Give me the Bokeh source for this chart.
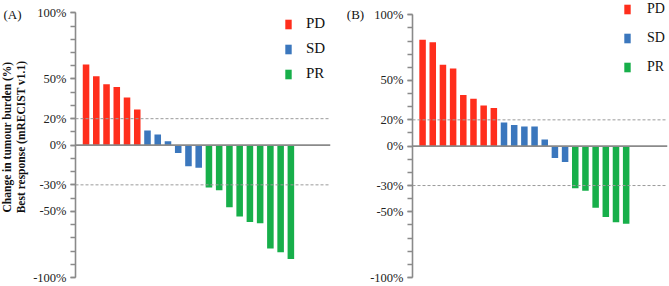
import numpy as np
from bokeh.plotting import figure
from bokeh.models import (ColumnDataSource, FixedTicker, PrintfTickFormatter, Span,
                          Label, Legend, LegendItem, Range1d)
from bokeh.layouts import row
from bokeh.embed import file_html
from bokeh.resources import INLINE

# ---------------- data ----------------
categories = ["PD", "SD", "PR"]
bar_colors = ["#FF2E1C", "#3B77BD", "#17AF4A"]

a_pd = [61, 52, 46, 44, 36, 27]
a_sd = [11, 8, 3, -6, -16, -17]
a_pr = [-32, -34, -47, -54, -58, -59, -78, -81, -86]

b_pd = [81, 79, 62, 59, 39, 36, 31, 29]
b_sd = [18, 16, 15, 15, 5, -9, -12]
b_pr = [-32, -34, -47, -54, -58, -59]

y_ticks = [-100, -50, -30, 0, 20, 50, 100]
y_minor = list(range(-100, 101, 10))
threshold_lines = [20, -30]
panel_tags = ["(A)", "(B)"]
y_title = ["Change in tumour burden (%)", "Best response (mRECIST v1.1)"]

SERIF = "Liberation Serif"
GRAY = "#8a8a8a"
TEXT = "#111111"


def strip(width, height):
    """A narrow drawing area (pixel coordinates, y downward) for side texts."""
    s = figure(width=width, height=height, x_range=Range1d(0, width),
               y_range=Range1d(height, 0), toolbar_location=None,
               output_backend="svg", x_axis_location=None, y_axis_location=None,
               min_border=0)
    s.grid.visible = False
    s.outline_line_color = None
    return s


def make_panel(groups, width, height, bl, br, bb, x_start, x_end, y_top_px,
               leg_loc, leg_spacing, leg_standoff, leg_font):
    fh = height - bb
    ppy = (fh - y_top_px) / 200.0
    y_end = 100 + y_top_px / ppy

    p = figure(width=width, height=height, x_range=Range1d(x_start, x_end),
               y_range=Range1d(-100, y_end), toolbar_location=None,
               output_backend="svg", x_axis_location=None,
               min_border_left=bl, min_border_right=br,
               min_border_top=0, min_border_bottom=bb)
    p.grid.visible = False
    p.outline_line_color = None

    for v in threshold_lines:
        p.add_layout(Span(location=v, dimension="width", line_color="#9a9a9a",
                          line_width=1, line_dash="3 2"))

    items = []
    offset = 0
    for cat, col, vals in zip(categories, bar_colors, groups):
        xs = np.arange(len(vals)) + offset
        src = ColumnDataSource(dict(x=xs, top=vals))
        r = p.vbar(x="x", top="top", bottom=0, width=0.64, source=src,
                   fill_color=col, line_color=None)
        items.append(LegendItem(label=cat, renderers=[r]))
        offset += len(vals)

    p.add_layout(Span(location=0, dimension="width", line_color=GRAY,
                      line_width=1.6))

    ax = p.yaxis[0]
    ax.bounds = (-100, 100)
    ax.ticker = FixedTicker(ticks=y_ticks, minor_ticks=y_minor)
    ax.formatter = PrintfTickFormatter(format="%d%%")
    ax.axis_line_color = GRAY
    ax.axis_line_width = 1.6
    ax.major_tick_line_color = GRAY
    ax.minor_tick_line_color = GRAY
    ax.major_tick_line_width = 1.3
    ax.minor_tick_line_width = 1.3
    ax.major_tick_in = 0
    ax.major_tick_out = 5
    ax.minor_tick_in = 0
    ax.minor_tick_out = 5
    ax.major_label_standoff = 4
    ax.major_label_text_font = SERIF
    ax.major_label_text_font_size = "12.5px"
    ax.major_label_text_color = "#222222"

    legend = Legend(items=items, location=leg_loc, orientation="vertical",
                    glyph_width=8, glyph_height=12, label_height=17,
                    label_standoff=leg_standoff, spacing=leg_spacing,
                    padding=0, margin=0, border_line_color=None,
                    background_fill_alpha=0, label_text_font=SERIF,
                    label_text_font_size=leg_font, label_text_color=TEXT)
    p.add_layout(legend)
    return p


H = 286
# left strip of panel A: y-axis title and panel tag
sA = strip(30, H)
for txt, sx in zip(y_title, [6.5, 20.5]):
    sA.add_layout(Label(x=sx, y=141, text=txt, angle=np.pi / 2,
                        text_align="center", text_baseline="middle",
                        text_font=SERIF, text_font_style="bold",
                        text_font_size="11.5px", text_color=TEXT))
sA.add_layout(Label(x=12, y=14, text=panel_tags[0], text_align="center",
                    text_baseline="middle", text_font=SERIF,
                    text_font_size="13px", text_color=TEXT))

pA = make_panel([a_pd, a_sd, a_pr], 305, H, 41, 5, 9, -1.03, 23.87, 12.3,
                (209, 195), 8, 14, "15px")

# left strip of panel B: panel tag
sB = strip(32, H)
sB.add_layout(Label(x=20, y=14, text=panel_tags[1], text_align="center",
                    text_baseline="middle", text_font=SERIF,
                    text_font_size="13px", text_color=TEXT))

pB = make_panel([b_pd, b_sd, b_pr], 302, H, 40, 2, 8, -0.99, 24.06, 14.3,
                (211, 202), 12, 16, "14px")

layout = row(sA, pA, sB, pB, spacing=0)
open("out.html", "w").write(file_html(layout, INLINE))
